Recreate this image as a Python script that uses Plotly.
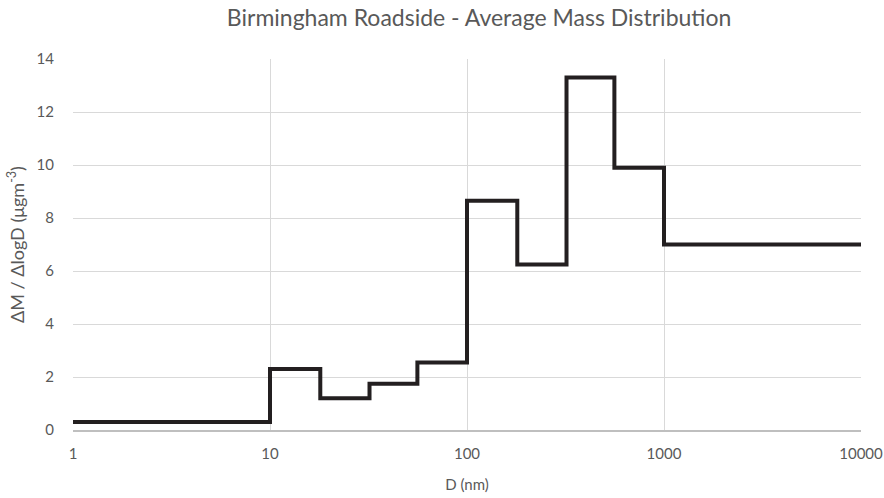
import plotly.graph_objects as go

bin_edges = [1, 10, 18, 32, 56, 100, 180, 320, 560, 1000, 10000]
mass_values = [0.3, 2.3, 1.2, 1.75, 2.55, 8.65, 6.25, 13.3, 9.9, 7.0]
x_ticks = [1, 10, 100, 1000, 10000]
x_tick_labels = ["1", "10", "100", "1000", "10000"]

FONT = "Lato, 'Open Sans', sans-serif"
GRAY = "#595959"

fig = go.Figure()
fig.add_trace(go.Scatter(
    x=bin_edges,
    y=mass_values + [mass_values[-1]],
    mode="lines",
    line=dict(shape="hv", color="#231f20", width=4),
    showlegend=False,
))

fig.update_layout(
    width=884, height=498,
    margin=dict(l=73, r=23, t=59, b=68),
    paper_bgcolor="white", plot_bgcolor="white",
    title=dict(text="Birmingham Roadside - Average Mass Distribution",
               x=0.542, xanchor="center", y=0.964, yanchor="middle",
               font=dict(family=FONT, size=23, color=GRAY)),
    xaxis=dict(type="log", range=[0, 4], tickvals=x_ticks, ticktext=x_tick_labels,
               showgrid=True, gridcolor="#d9d9d9", gridwidth=1,
               showline=True, linecolor="#bfbfbf", linewidth=1.5,
               ticks="outside", ticklen=9, tickcolor="rgba(0,0,0,0)",
               tickfont=dict(family=FONT, size=15, color=GRAY),
               title=dict(text="D (nm)", font=dict(family=FONT, size=15, color=GRAY), standoff=19),
               zeroline=False, automargin=False),
    yaxis=dict(range=[0, 14], dtick=2, showgrid=True, gridcolor="#d9d9d9", gridwidth=1,
               showline=False, ticks="outside", ticklen=15, tickcolor="rgba(0,0,0,0)",
               tickfont=dict(family=FONT, size=15, color=GRAY),
               title=dict(text="ΔM / ΔlogD (μgm<sup>-3</sup>)",
                          font=dict(family=FONT, size=18, color=GRAY), standoff=7),
               zeroline=False, automargin=False),
)

fig.write_html("out.html", config={"displayModeBar": False},
               post_script="document.body.style.margin='0';document.body.style.overflow='hidden';")
